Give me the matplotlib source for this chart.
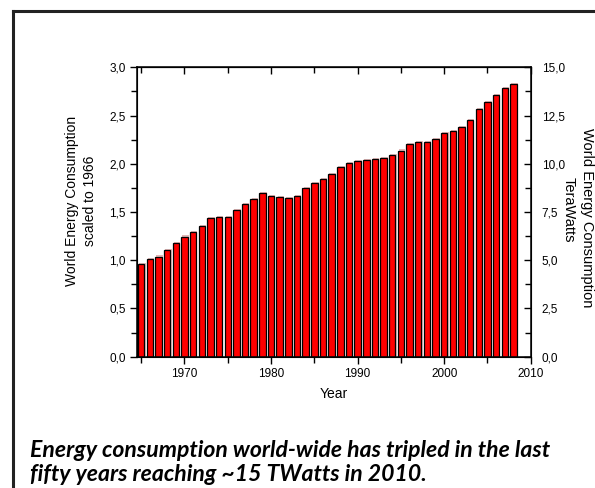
import matplotlib
matplotlib.use("Agg")
import matplotlib.pyplot as plt
import matplotlib.patheffects as pe
from matplotlib.ticker import MultipleLocator, FuncFormatter
from matplotlib.lines import Line2D

years = list(range(1965, 2009))
# world energy consumption, scaled to 1966
scaled = [0.958, 1.01, 1.039, 1.109, 1.176, 1.246, 1.296, 1.359, 1.433, 1.444,
          1.444, 1.525, 1.581, 1.634, 1.697, 1.662, 1.651, 1.644, 1.665, 1.746,
          1.796, 1.838, 1.898, 1.965, 2.004, 2.028, 2.039, 2.046, 2.063, 2.088,
          2.137, 2.208, 2.222, 2.229, 2.261, 2.317, 2.335, 2.380, 2.458, 2.570,
          2.641, 2.711, 2.782, 2.827]

caption1 = "Energy consumption world-wide has tripled in the last"
caption2 = "fifty years reaching ~15 TWatts in 2010."

plt.rcParams['font.family'] = ['Liberation Sans', 'DejaVu Sans']

W, H = 595, 488
fig = plt.figure(figsize=(W / 100, H / 100), dpi=100)
ax = fig.add_axes([0.230, 0.269, 0.662, 0.593])

bars = ax.bar(years, scaled, width=0.75, color='#ff0000', edgecolor='black', linewidth=0.9)
for b in bars:
    b.set_path_effects([pe.SimplePatchShadow(offset=(0.8, 0.8), shadow_rgbFace='#c06060', alpha=0.45),
                        pe.Normal()])

ax.set_xlim(1964.5, 2010)
ax.set_ylim(0, 3.0)

comma = FuncFormatter(lambda v, p: f"{v:.1f}".replace('.', ','))
ax.yaxis.set_major_locator(MultipleLocator(0.5))
ax.yaxis.set_minor_locator(MultipleLocator(0.25))
ax.yaxis.set_major_formatter(comma)
ax.xaxis.set_major_locator(MultipleLocator(10))
ax.xaxis.set_minor_locator(MultipleLocator(5))
ax.tick_params(which='both', direction='out', labelsize=8.5, width=1, pad=3)
ax.tick_params(which='major', length=5)
ax.tick_params(which='minor', length=4)
for s in ax.spines.values():
    s.set_linewidth(1.1)

top = ax.secondary_xaxis('top')
top.xaxis.set_major_locator(MultipleLocator(10))
top.xaxis.set_minor_locator(MultipleLocator(5))
top.tick_params(which='both', direction='in', labeltop=False, width=1)
top.tick_params(which='major', length=5)
top.tick_params(which='minor', length=4)

ax2 = ax.twinx()
ax2.set_ylim(0, 15.0)
ax2.yaxis.set_major_locator(MultipleLocator(2.5))
ax2.yaxis.set_minor_locator(MultipleLocator(1.25))
ax2.yaxis.set_major_formatter(comma)
ax2.tick_params(which='both', direction='in', labelsize=8.5, width=1, pad=8)
ax2.tick_params(which='major', length=5)
ax2.tick_params(which='minor', length=4)

ax.set_xlabel('Year', fontsize=10, labelpad=5)

fig.text(81 / W, 1 - 201 / H, 'World Energy Consumption\nscaled to 1966', fontsize=10,
         rotation=90, ha='center', va='center', linespacing=1.3, multialignment='center')
# right label, one line at a time
fig.text(587 / W, 1 - 218 / H, 'World Energy Consumption', fontsize=10.5,
         rotation=-90, ha='center', va='center')
fig.text(569 / W, 1 - 210 / H, 'TeraWatts', fontsize=10.5,
         rotation=-90, ha='center', va='center')

fig.text(30 / W, 1 - 457 / H, caption1, fontsize=16.6, fontweight='bold', fontstyle='italic',
         family=['Lato', 'DejaVu Sans'], ha='left', va='baseline')
fig.text(30 / W, 1 - 481 / H, caption2, fontsize=16.6, fontweight='bold', fontstyle='italic',
         family=['Lato', 'DejaVu Sans'], ha='left', va='baseline')

# slide frame
fig.add_artist(Line2D([0.022, 1.0], [0.977, 0.977], color='#222222', lw=2.2))
fig.add_artist(Line2D([0.022, 0.022], [0.0, 0.977], color='#222222', lw=2.2))

fig.savefig('out.png', dpi=100)
